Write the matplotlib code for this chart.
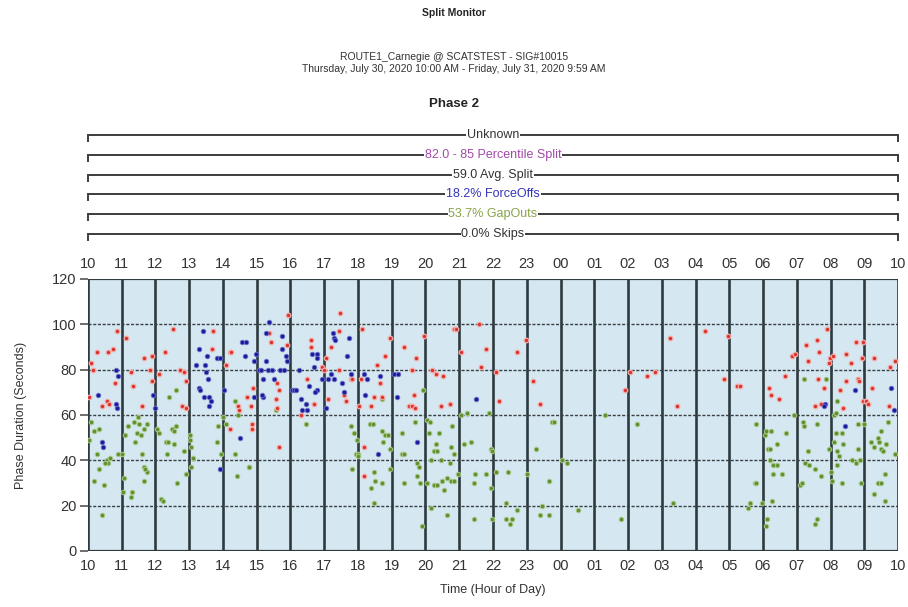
import matplotlib
matplotlib.use("Agg")
import matplotlib.pyplot as plt
import numpy as np
from matplotlib.transforms import blended_transform_factory

plt.rcParams['font.family'] = ['Liberation Sans', 'DejaVu Sans']

# ---- summary statistics for the phase ----
skips_pct = 0.0
gapouts_pct = 53.7
forceoffs_pct = 18.2
avg_split = 59.0
percentile_split = 82.0

hour_labels = ['10', '11', '12', '13', '14', '15', '16', '17', '18', '19', '20', '21',
               '22', '23', '00', '01', '02', '03', '04', '05', '06', '07', '08', '09', '10']
start_hour = 10

# ---- cycles ending in max-out (hour of day, phase duration s) ----
maxout_hour = [10.87, 11.14, 10.28, 10.6, 10.75, 10.08, 10.16, 10.03, 10.79, 10.55, 10.62, 10.42,
               11.34, 11.28, 11.67, 11.9, 11.85, 11.9, 12.27, 12.52, 12.1, 11.6, 12.72, 12.84,
               12.89, 12.79, 12.9, 13.7, 13.67, 14.1, 14.2, 14.43, 14.2, 14.7, 14.47, 14.24,
               15.93, 17.48, 15.36, 15.41, 15.9, 16.6, 16.6, 17.19, 17.43, 17.04, 18.12, 18.96,
               19.37, 18.8, 18.57, 16.94, 17.0, 17.43, 17.78, 17.83, 18.1, 18.65, 17.58, 17.63,
               18.03, 18.4, 18.47, 18.72, 19.5, 18.17, 18.17, 15.66, 14.87, 14.87, 16.5, 15.6,
               15.65, 15.56, 15.6, 14.9, 14.84, 17.1, 16.7, 16.3,
               20.84, 20.9, 21.58, 19.95, 19.73, 21.04, 21.78, 22.72, 22.97, 21.63, 22.1, 20.2,
               20.3, 20.52, 23.2, 19.6, 19.65, 19.6, 19.7, 20.45, 20.72, 22.18, 23.4,
               2.05, 1.92, 2.56, 2.81, 3.24, 3.44, 4.27, 4.96, 4.84, 5.24,
               7.89, 7.6, 7.27, 8.75, 8.97, 7.67, 6.85, 6.95, 7.34, 7.99, 8.06, 7.96, 8.45, 8.62,
               8.94, 9.3, 9.75, 9.92, 6.66, 7.64, 7.8, 8.45, 8.8, 8.84, 8.28, 9.24, 6.17, 6.23,
               6.46, 7.54, 7.72, 8.38, 8.97, 9.05, 9.12, 9.73, 5.31]
maxout_sec = [97, 94, 88, 88, 89, 83, 80, 68, 74, 66, 65, 64,
              73, 79, 85, 86, 80, 75, 88, 98, 78, 64, 80, 79,
              75, 64, 63, 97, 89, 82, 88, 64, 54, 68, 62, 88,
              104, 105, 96, 92, 91, 93, 90, 90, 97, 85, 98, 94,
              90, 86, 82, 81, 80, 80, 76, 76, 76, 74, 69, 66,
              64, 64, 68, 68, 64, 46, 33, 46, 54, 56, 76, 74,
              71, 67, 63, 72, 64, 67, 65, 60,
              98, 98, 100, 95, 85, 88, 89, 88, 93, 81, 79, 80,
              78, 77, 75, 80, 69, 64, 63, 64, 65, 66, 65,
              79, 71, 77, 79, 94, 64, 97, 95, 76, 73,
              98, 93, 91, 92, 92, 88, 86, 87, 84, 85, 86, 83, 87, 83,
              85, 85, 81, 84, 77, 76, 72, 75, 76, 75, 71, 72, 72, 69,
              67, 64, 65, 63, 66, 66, 65, 64, 73]

# ---- cycles ending in force-off ----
forceoff_hour = [10.82, 10.9, 10.3, 10.82, 10.87, 11.93, 12.0, 10.42, 10.44, 13.4, 13.28, 13.53,
                 13.82, 13.92, 13.2, 13.46, 13.49, 13.55, 13.28, 13.33, 13.43, 13.58, 13.63, 13.6,
                 14.04, 14.56, 14.66, 13.92, 14.5, 14.68,
                 15.36, 15.26, 15.76, 15.76, 15.86, 15.9, 14.97, 14.92, 15.26, 15.07, 15.12, 15.33,
                 15.46, 15.7, 15.8, 16.25, 16.7, 16.65, 16.8, 16.8, 17.27, 17.3, 17.33, 17.73,
                 17.68, 17.19, 17.3, 16.94, 17.1, 17.53, 17.78, 18.19, 18.27, 18.65, 19.06, 18.22,
                 19.16, 16.05, 16.1, 16.15, 16.55, 16.8, 16.74, 16.3, 16.45, 16.35, 16.5, 17.04,
                 15.2, 15.5, 15.2, 15.15, 14.92, 18.6, 17.6, 19.2,
                 21.49, 19.75,
                 7.83, 7.8, 8.72, 9.8, 9.87, 8.42]
forceoff_sec = [80, 77, 69, 65, 63, 69, 63, 48, 46, 97, 89, 86,
                85, 85, 82, 82, 79, 76, 72, 71, 68, 68, 66, 64,
                71, 92, 86, 36, 50, 92,
                101, 96, 95, 89, 86, 84, 87, 84, 84, 80, 80, 80,
                80, 80, 80, 80, 81, 87, 87, 85, 96, 94, 93, 94,
                86, 78, 76, 76, 76, 74, 78, 78, 76, 77, 78, 69,
                68, 71, 71, 71, 73, 71, 70, 67, 65, 62, 62, 63,
                76, 76, 68, 69, 68, 43, 70, 78,
                67, 48,
                65, 64, 71, 72, 62, 55]

# ---- cycles ending in gap-out ----
gapout_hour = [10.08, 10.18, 10.33, 10.26, 10.18, 10.33, 10.42, 10.47, 10.55, 10.6, 10.5, 10.65,
               10.9, 11.0, 11.1, 11.06, 11.04, 11.3, 11.26, 11.2, 11.36, 11.47, 11.5, 11.45,
               11.56, 11.66, 11.75, 11.4, 11.6, 11.65, 11.75, 11.7, 11.65, 12.05, 12.1, 12.3,
               12.38, 12.35, 12.54, 12.15, 12.22, 12.5, 12.55, 12.6, 12.84, 12.89, 12.64, 13.03,
               13.02, 13.05, 13.1, 13.05, 12.4, 12.6, 13.82, 13.85, 13.94, 14.0, 14.36, 14.41,
               14.78, 14.36, 10.03, 14.1, 14.45,
               16.45, 17.78, 17.88, 17.93, 18.0, 17.83, 18.37, 18.72, 18.8, 18.9, 18.75, 18.96,
               19.3, 19.3, 19.35, 18.47, 18.5, 18.7, 18.4, 18.47, 19.35, 18.96, 14.77, 15.56,
               18.7, 18.45, 17.97, 18.0,
               19.93, 21.04, 21.22, 21.88, 20.05, 20.12, 19.7, 20.8, 20.1, 20.4, 20.3, 20.25,
               20.35, 20.75, 20.85, 21.15, 21.36, 21.93, 21.98, 19.75, 19.8, 20.15, 20.45, 20.72,
               19.75, 19.85, 20.05, 20.25, 20.35, 20.5, 20.55, 20.65, 20.75, 20.85, 20.95, 21.48,
               21.78, 22.08, 22.45, 21.43, 21.93, 23.02, 23.66, 23.27, 23.75, 23.82, 0.2, 20.15,
               20.65, 21.43, 21.98, 22.4, 22.5, 22.55, 22.4, 19.9, 23.66, 23.46, 22.7, 23.4,
               1.33, 2.27, 0.53, 1.8, 3.34, 0.04,
               5.56, 5.76, 6.1, 7.55, 7.22, 8.2, 7.86, 5.8, 6.05, 6.25, 6.4, 6.15,
               6.22, 6.69, 6.92, 7.18, 7.22, 7.6, 6.42, 6.56, 5.8, 7.32, 7.25, 7.37,
               7.54, 7.72, 8.0, 8.05, 7.1, 7.15, 7.6, 6.13, 5.6, 5.98, 6.28, 7.95,
               8.1, 8.15, 8.35, 8.1, 8.15, 8.2, 8.25, 8.2, 8.38, 8.35, 8.65, 8.75,
               8.88, 8.82, 8.8, 9.0, 8.9, 9.28, 9.2, 9.3, 9.4, 9.45, 9.5, 9.55,
               9.65, 9.4, 9.5, 9.6, 9.7, 9.5, 9.62, 9.9, 6.1, 6.2, 6.3, 6.3]
gapout_sec = [57, 53, 54, 43, 31, 36, 16, 29, 40, 39, 39, 41,
              43, 43, 51, 32, 26, 26, 24, 55, 57, 59, 56, 52,
              51, 54, 56, 48, 43, 37, 35, 36, 31, 54, 52, 48,
              48, 43, 47, 23, 22, 54, 53, 55, 44, 34, 30, 51,
              49, 46, 41, 37, 68, 71, 48, 55, 43, 59, 43, 33,
              37, 66, 49, 56, 60,
              56, 55, 52, 43, 43, 36, 56, 53, 51, 51, 48, 45,
              52, 43, 43, 35, 31, 30, 28, 21, 30, 36, 37, 62,
              67, 56, 49, 42,
              71, 60, 61, 61, 58, 57, 57, 55, 52, 52, 47, 44,
              44, 46, 43, 47, 48, 45, 44, 39, 37, 40, 40, 39,
              33, 30, 30, 29, 29, 31, 27, 32, 31, 31, 34, 34,
              34, 35, 35, 30, 28, 34, 31, 45, 57, 57, 39, 19,
              16, 14, 14, 14, 12, 14, 21, 11, 16, 20, 18, 16,
              60, 56, 18, 14, 21, 40,
              19, 30, 11, 12, 76, 66, 76, 56, 51, 53, 47, 45,
              45, 52, 60, 57, 55, 56, 38, 34, 30, 44, 39, 38,
              36, 33, 35, 31, 29, 30, 14, 14, 21, 21, 22, 45,
              48, 52, 52, 60, 61, 44, 42, 38, 47, 30, 40, 39,
              40, 45, 56, 56, 30, 25, 48, 46, 50, 48, 45, 44,
              47, 30, 30, 22, 57, 53, 34, 43, 53, 40, 38, 34]


def elapsed(hours):
    """Hours elapsed since the start of the 24 h window."""
    return (np.asarray(hours, dtype=float) - start_hour) % 24


fig = plt.figure(figsize=(9.08, 6.07), dpi=100)
fig.patch.set_facecolor('white')
ax = fig.add_axes([0.0969, 0.0923, 0.8921, 0.4481])
ax.set_facecolor('#d5e8f1')

ax.set_xlim(0, 24)
ax.set_ylim(0, 120)

# hour separators and duration gridlines
for h in range(25):
    ax.axvline(h, color='#2e3a3e', lw=1.9, zorder=1)
for v in range(20, 120, 20):
    ax.axhline(v, color='#3a3f44', lw=1.0, ls=(0, (2.2, 1.2)), zorder=1)
ax.axhline(120, color='#2e3a3e', lw=1.6, zorder=1)
ax.axhline(0, color='#2e3a3e', lw=1.6, zorder=1)

ms = 3.3
ax.plot(elapsed(gapout_hour), gapout_sec, 'o', ms=ms, mfc='#5f8f2e', mec='#a9c98a',
        mew=0.7, zorder=3, ls='none')
ax.plot(elapsed(maxout_hour), maxout_sec, 'o', ms=ms, mfc='#d8322c', mec='#f4aaa6',
        mew=0.9, zorder=4, ls='none')
ax.plot(elapsed(forceoff_hour), forceoff_sec, 'o', ms=ms, mfc='#1b1c9c', mec='#6d70c8',
        mew=0.6, zorder=5, ls='none')

for s in ax.spines.values():
    s.set_visible(False)

ax.set_xticks(range(25))
ax.set_xticklabels(hour_labels)
ax.set_yticks(range(0, 121, 20))
ax.tick_params(axis='x', which='both', top=True, labeltop=True, bottom=True,
               length=0, pad=6, labelsize=10.5, labelcolor='#333333')
ax.tick_params(axis='y', length=6, width=1.2, color='#555555', pad=2,
               labelsize=10.5, labelcolor='#333333')

ax.set_xlabel('Time (Hour of Day)', fontsize=9, color='#333333', labelpad=8)
ax.set_ylabel('Phase Duration (Seconds)', fontsize=9, color='#333333', labelpad=18)

# summary brackets above the plot
trans = blended_transform_factory(ax.transData, ax.transAxes)
bracket_rows = [
    ('Unknown', '#333333'),
    (f'{percentile_split:.1f} - 85 Percentile Split', '#a04aa8'),
    (f'{avg_split:.1f} Avg. Split', '#333333'),
    (f'{forceoffs_pct:.1f}% ForceOffs', '#3535b8'),
    (f'{gapouts_pct:.1f}% GapOuts', '#86a446'),
    (f'{skips_pct:.1f}% Skips', '#333333'),
]
row_y = [1.529, 1.456, 1.382, 1.3125, 1.239, 1.165]
drop = 0.022
for (label, col), yy in zip(bracket_rows, row_y):
    ax.plot([0, 0, 24, 24], [yy - drop, yy, yy, yy - drop], transform=trans,
            clip_on=False, color='#3c3c3c', lw=1.4, solid_joinstyle='miter')
    ax.text(12, yy, label, transform=trans, ha='center', va='center', color=col,
            fontsize=9, bbox=dict(fc='white', ec='none', pad=0.6), clip_on=False)

fig.text(0.5, 0.978, 'Split Monitor', ha='center', va='center', fontsize=7.5,
         fontweight='bold', color='#222222')
fig.text(0.5, 0.906, 'ROUTE1_Carnegie @ SCATSTEST - SIG#10015', ha='center', va='center',
         fontsize=7.5, color='#333333')
fig.text(0.5, 0.887, 'Thursday, July 30, 2020 10:00 AM - Friday, July 31, 2020 9:59 AM',
         ha='center', va='center', fontsize=7.5, color='#333333')
fig.text(0.5, 0.829, 'Phase 2', ha='center', va='center', fontsize=9.5,
         fontweight='bold', color='#222222')

fig.savefig('out.png', dpi=100, facecolor='white')
